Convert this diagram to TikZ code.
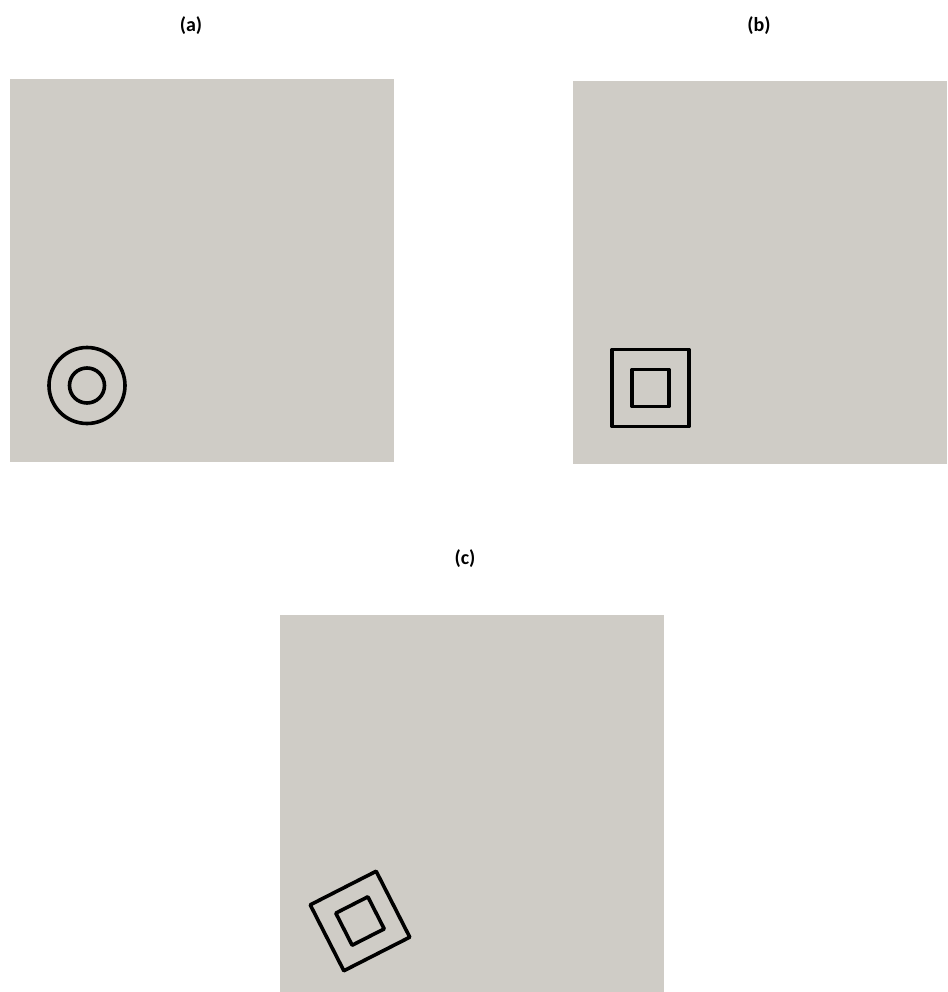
\documentclass[tikz,border=0pt]{standalone}
\usepackage{fontspec}
\setmainfont{Carlito}
\usetikzlibrary{calc}
\definecolor{panelgray}{RGB}{207,204,198}
\begin{document}
\begin{tikzpicture}[x=1pt,y=-1pt,
    panel/.style={fill=panelgray},
    outline/.style={draw=black, line width=3.6pt, line join=round},
    caption/.style={font=\fontsize{20}{24}\selectfont\bfseries, inner sep=0pt}]
    % canvas
    \useasboundingbox (0,0) rectangle (947,992);
    % constants
    \def\outerside{77}
    \def\innerside{37}
    % panel corners
    \coordinate (Atl) at (10,79);
    \coordinate (Abr) at (394,462);
    \coordinate (Btl) at (573,81);
    \coordinate (Bbr) at (947,464);
    \coordinate (Ctl) at (280,615);
    \coordinate (Cbr) at (664,992);
    % panel labels
    \node [caption] (alabel) at (191,26) {(a)};
    \node [caption] (blabel) at (759,26) {(b)};
    \node [caption] (clabel) at (465,559) {(c)};
    % panels
    \fill [panel] (Atl) rectangle (Abr);
    \fill [panel] (Btl) rectangle (Bbr);
    \fill [panel] (Ctl) rectangle (Cbr);
    % (a) rings
    \coordinate (acenter) at (87,385.5);
    \draw [outline] (acenter) circle [radius=38];
    \draw [outline] (acenter) circle [radius=17.5];
    % (b) squares
    \coordinate (bcenter) at (650.5,388);
    \draw [outline] ($(bcenter)+(-0.5*\outerside,-0.5*\outerside)$) rectangle ++(\outerside,\outerside);
    \draw [outline] ($(bcenter)+(-0.5*\innerside,-0.5*\innerside)$) rectangle ++(\innerside,\innerside);
    % (c) rotated squares
    \coordinate (ccenter) at (360,921);
    \begin{scope}[rotate around={27:(ccenter)}]
        \draw [outline] ($(ccenter)+(-37,-37)$) rectangle ++(74,74);
        \draw [outline] ($(ccenter)+(-18,-18)$) rectangle ++(36,36);
    \end{scope}
\end{tikzpicture}
\end{document}
